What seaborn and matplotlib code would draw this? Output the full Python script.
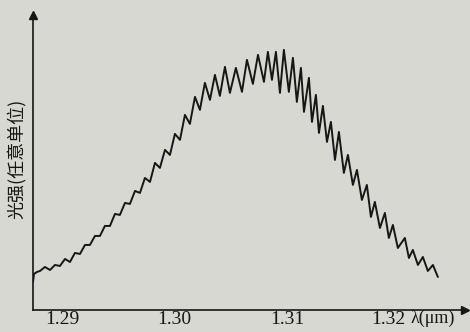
import matplotlib
matplotlib.use("Agg")
import matplotlib.pyplot as plt
import matplotlib.transforms as mtransforms
import seaborn as sns
import pandas as pd

# 波长 (µm) 与光强 (任意单位)，按图读取的峰/谷点
wavelength = [
    1.28743, 1.28752, 1.28778,
    1.28805, 1.28849, 1.28894, 1.28938, 1.28982, 1.29027, 1.29071, 1.29115,
    1.29160, 1.29204, 1.29248, 1.29293, 1.29337, 1.29381, 1.29426, 1.29470,
    1.29514, 1.29559, 1.29603, 1.29648, 1.29692, 1.29736, 1.29781, 1.29825,
    1.29869, 1.29914, 1.29958, 1.30002, 1.30047, 1.30091, 1.30135, 1.30180,
    1.30224, 1.30268, 1.30313, 1.30357, 1.30401, 1.30446, 1.30490, 1.30543,
    1.30597, 1.30641, 1.30694, 1.30739, 1.30792, 1.30827, 1.30863, 1.30898,
    1.30934, 1.30969, 1.31013, 1.31049, 1.31084, 1.31120, 1.31147, 1.31191,
    1.31218, 1.31253, 1.31280, 1.31315, 1.31351, 1.31386, 1.31422, 1.31457,
    1.31501, 1.31537, 1.31581, 1.31617, 1.31661, 1.31705, 1.31741, 1.31776,
    1.31821, 1.31865, 1.31900, 1.31936, 1.31980, 1.32042, 1.32078, 1.32113,
    1.32158, 1.32202, 1.32246, 1.32291, 1.32335,
]
intensity = [
    28, 36, 38,
    39, 43, 40, 45, 44, 51, 48, 57,
    56, 65, 65, 74, 74, 84, 84, 96,
    95, 107, 106, 119, 117, 132, 128, 147,
    142, 160, 155, 176, 170, 195, 186, 213,
    200, 227, 210, 235, 214, 243, 217, 242,
    218, 250, 226, 255, 228, 258, 230, 258,
    217, 260, 218, 252, 208, 242, 198, 232,
    188, 215, 177, 204, 168, 188, 150, 178,
    137, 155, 125, 140, 110, 125, 93, 108,
    82, 97, 72, 85, 62, 72, 52, 60,
    45, 53, 39, 45, 33,
]
tick_values = [1.29, 1.30, 1.31, 1.32]
tick_labels = ["1.29", "1.30", "1.31", "1.32"]

df = pd.DataFrame({"wl": wavelength, "I": intensity})

sns.set_style("white")
plt.rcParams["font.family"] = ["Liberation Serif", "Noto Sans CJK SC", "DejaVu Sans"]

paper = "#d8d8d2"
ink = "#161616"

fig = plt.figure(figsize=(4.7, 3.32), dpi=100, facecolor=paper)
ax = fig.add_axes([0.0702, 0.0663, 0.919, 0.889])
ax.set_facecolor(paper)

sns.lineplot(data=df, x="wl", y="I", ax=ax, color=ink, linewidth=1.4)

ax.set_xlim(1.28743, 1.32575)
ax.set_ylim(0, 295)

for side in ["top", "right"]:
    ax.spines[side].set_visible(False)
for side in ["left", "bottom"]:
    ax.spines[side].set_color(ink)
    ax.spines[side].set_linewidth(1.2)

# 坐标轴箭头
ax.plot(0, 1, marker="^", color=ink, markersize=6, transform=ax.transAxes, clip_on=False)
ax.plot(1, 0, marker=">", color=ink, markersize=6, transform=ax.transAxes, clip_on=False)

ax.set_xticks(tick_values)
ax.set_xticklabels(tick_labels)
ax.set_yticks([])
ax.tick_params(axis="x", direction="in", length=4, width=1, color=ink,
               labelsize=14, labelcolor=ink, pad=1)

# 最后一个刻度标签略向左排
last = ax.get_xticklabels()[-1]
last.set_transform(last.get_transform() +
                   mtransforms.ScaledTranslation(-0.12, 0, fig.dpi_scale_trans))

ax.set_xlabel("")
ax.set_ylabel("")
fig.text(0.036, 0.52, "光强(任意单位)", rotation=90, ha="center", va="center",
         fontsize=13, color=ink, family=["Noto Sans CJK SC", "DejaVu Sans"])
fig.text(0.874, 0.04, "λ(μm)", ha="left", va="center", fontsize=13, color=ink)

plt.savefig("out.png", dpi=100, facecolor=paper)
